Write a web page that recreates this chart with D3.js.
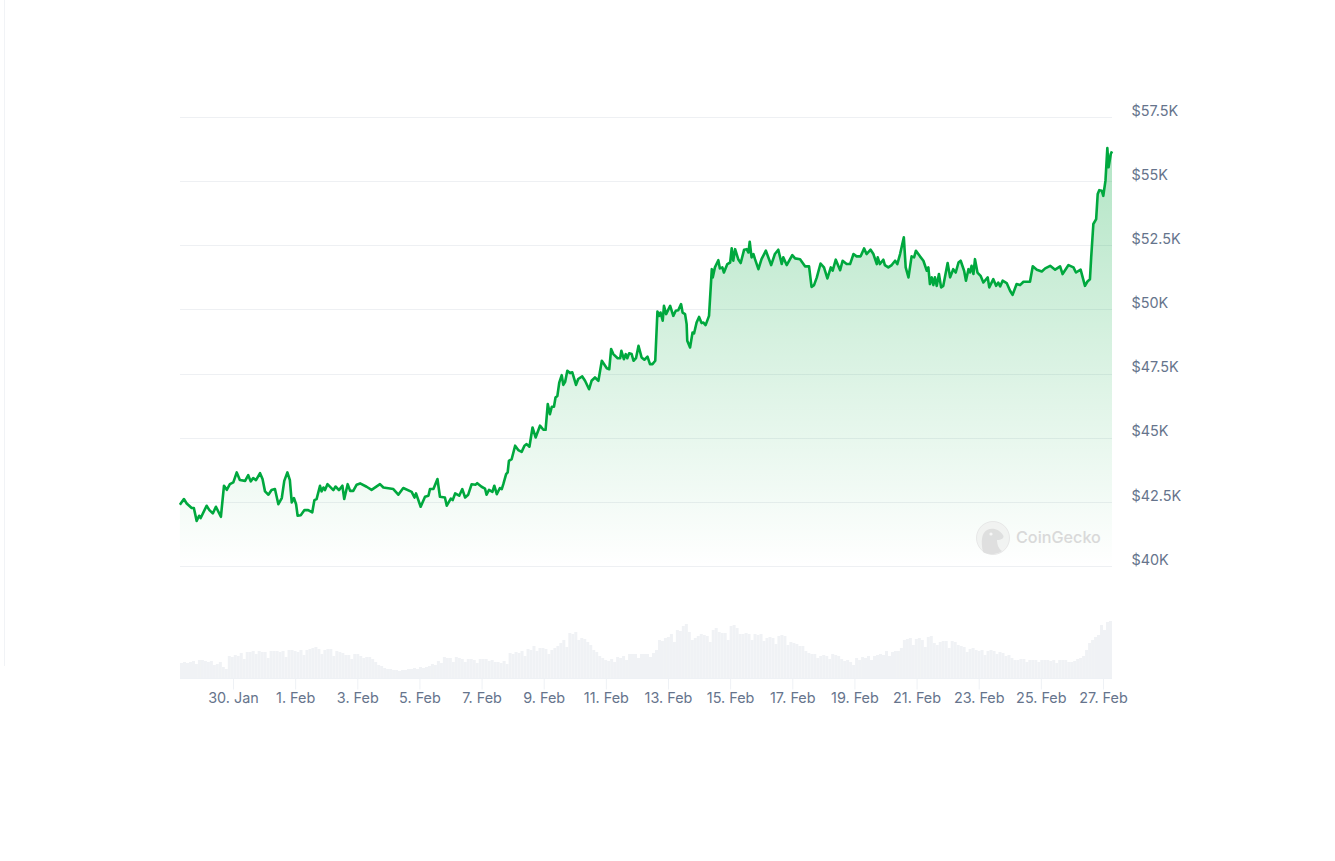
<!DOCTYPE html>
<html><head><meta charset="utf-8"><style>
html,body{margin:0;padding:0;background:#fff}
svg{display:block}
text{font-family:Inter,"Noto Sans",sans-serif}
</style><script src="https://cdn.jsdelivr.net/npm/d3@7"></script></head><body><svg id="c" width="1335" height="861"></svg>
<script>
// days since 28 Jan
const priceDays=[.29,.42,.51,.67,.74,.83,.91,.96,1.15,1.24,1.35,1.45,1.61,1.71,1.80,1.90,2.01,2.12,2.22,2.39,2.49,2.57,2.65,2.74,2.87,2.95,3.03,3.14,3.24,3.35,3.46,3.57,3.65,3.75,3.83,3.89,3.96,4.03,4.08,4.18,4.30,4.42,4.55,4.62,4.69,4.80,4.85,4.91,4.96,5.04,5.23,5.30,5.41,5.52,5.58,5.69,5.77,5.87,5.98,6.09,6.30,6.46,6.73,6.84,7.16,7.32,7.48,7.75,7.84,7.89,8.04,8.18,8.29,8.34,8.45,8.58,8.66,8.82,8.88,9.01,9.07,9.15,9.28,9.38,9.47,9.57,9.68,9.81,9.86,10.00,10.11,10.16,10.24,10.35,10.41,10.49,
10.59,10.65,10.70,10.79,10.84,10.88,10.97,11.08,11.18,11.29,11.38,11.45,11.54,11.64,11.74,11.88,11.99,12.06,12.13,12.20,12.26,12.33,12.38,12.44,12.50,12.58,12.63,12.69,12.76,12.85,12.92,13.04,13.11,13.24,13.33,13.46,13.54,13.65,13.76,13.87,14.03,14.11,14.17,14.24,14.38,14.46,14.50,14.58,14.64,14.69,14.75,14.83,14.89,14.97,15.05,15.15,15.24,15.34,15.42,15.50,15.59,15.66,15.72,15.76,15.83,15.87,15.94,16.07,16.17,16.25,16.33,16.42,16.47,16.55,16.60,16.62,16.71,16.79,16.84,16.92,17.00,17.08,17.14,17.21,17.32,
17.41,17.44,17.51,17.62,17.67,17.75,17.80,17.91,18.00,18.05,18.10,18.16,18.26,18.34,18.45,18.53,18.59,18.63,18.69,18.75,18.80,18.91,19.01,19.15,19.32,19.44,19.55,19.66,19.71,19.82,20.00,20.09,20.25,20.41,20.54,20.62,20.70,20.79,20.91,21.02,21.13,21.24,21.30,21.40,21.54,21.62,21.75,21.86,21.97,22.07,22.20,22.31,22.39,22.52,22.61,22.72,22.75,22.82,22.93,22.98,23.09,23.20,23.31,23.38,23.47,
23.59,23.65,23.74,23.84,23.92,23.98,24.11,24.22,24.33,24.38,24.43,24.49,24.54,24.59,24.65,24.72,24.79,24.86,25.00,25.08,25.18,25.26,25.35,25.42,25.53,25.59,25.67,25.72,25.77,25.83,25.88,25.96,26.06,26.15,26.29,26.34,26.47,26.56,26.63,26.69,26.77,26.90,27.01,27.09,27.22,27.33,27.44,27.65,27.74,27.87,28.03,28.14,28.30,28.46,28.62,28.70,28.89,29.05,29.13,29.28,29.42,
29.50,29.58,29.62,29.69,29.78,29.83,29.88,29.96,30.01,30.08,30.14,30.18,30.25,30.29];
// price, thousands of USD
const prices=[42.42,42.64,42.47,42.29,42.29,41.79,41.99,41.90,42.38,42.21,42.08,42.34,41.95,43.16,43.00,43.22,43.29,43.68,43.38,43.35,43.57,43.33,43.46,43.38,43.65,43.42,42.94,42.81,42.99,43.03,42.44,42.68,43.35,43.68,43.38,42.51,42.68,42.44,41.99,42.01,42.21,42.21,42.12,42.60,42.64,43.16,42.94,43.09,42.99,43.22,42.99,43.13,42.99,43.16,42.64,43.22,42.96,42.96,43.20,43.25,43.12,43.00,43.22,43.09,43.03,42.81,43.07,42.92,42.70,42.86,42.34,42.73,42.77,43.03,43.03,43.42,42.73,42.70,42.38,42.66,42.60,42.86,42.77,43.03,42.70,42.81,43.22,43.20,43.26,43.12,43.05,42.81,43.00,42.92,43.16,42.83,
43.07,43.03,43.22,43.61,43.68,44.13,44.20,44.72,44.55,44.48,44.72,44.78,44.68,45.43,45.04,45.50,45.34,45.34,46.34,45.95,46.24,46.24,46.60,46.66,47.18,47.47,47.09,47.21,47.64,47.55,47.58,47.09,47.32,47.42,47.25,46.92,47.25,47.38,47.25,48.03,47.74,47.70,48.49,48.29,48.13,48.13,48.42,48.09,48.29,48.13,48.32,48.29,48.03,48.13,48.61,48.16,48.07,48.19,47.90,47.90,48.03,49.95,49.78,49.91,49.59,50.17,49.85,50.17,49.78,49.98,50.00,50.24,49.91,49.85,49.46,48.81,48.55,49.13,49.10,49.52,49.74,49.50,49.52,49.42,49.78,
51.60,51.28,51.67,51.95,51.63,51.67,51.47,51.80,51.86,52.41,51.93,52.38,51.99,51.84,52.36,52.38,52.25,52.67,52.06,52.19,51.99,51.60,51.99,52.32,51.76,52.19,52.36,51.80,52.06,51.76,52.15,52.02,51.99,51.71,51.71,50.91,50.98,51.28,51.82,51.67,51.24,51.67,51.54,51.97,51.56,51.93,51.80,51.80,52.19,52.10,52.10,52.41,52.19,52.36,52.19,51.80,52.06,51.80,51.97,51.76,51.67,51.76,51.93,51.80,52.19,
52.84,51.67,51.28,52.10,52.06,52.32,52.10,51.93,51.54,51.67,51.02,51.28,50.98,51.28,50.95,51.41,50.89,50.95,51.84,51.28,51.60,51.47,51.86,51.93,51.54,51.15,51.60,51.47,51.73,51.41,51.99,51.47,51.34,51.08,51.28,50.89,51.21,50.95,51.08,50.93,51.15,51.06,50.76,50.60,51.02,50.98,51.11,51.11,51.71,51.58,51.51,51.63,51.73,51.58,51.71,51.41,51.76,51.67,51.47,51.58,50.95,
51.12,51.21,52.06,53.36,53.55,54.53,54.68,54.66,54.46,55.05,56.32,55.57,56.09,56.19];
// volume, estimated, one reading per sample across the window
const volumes=[15,16,15,16,17,14,18,18,17,16,17,13,14,16,11,9,
22,21,23,22,25,19,26,26,27,24,27,26,26,20,27,27,27,26,27,21,28,28,27,26,28,23,28,29,30,31,29,24,28,29,29,22,27,26,25,23,23,19,24,24,22,20,21,21,19,16,13,12,10,9,9,8,8,7,8,8,9,9,10,9,11,10,11,12,14,13,17,15,21,20,20,16,21,20,19,16,19,19,18,15,19,19,19,17,18,16,16,15,17,14,
25,24,26,25,27,22,29,28,32,27,30,30,29,24,28,30,32,35,38,31,45,44,46,38,40,39,36,33,28,26,22,20,18,17,19,16,21,20,22,18,24,24,24,20,24,24,24,21,25,28,
38,37,40,41,44,36,48,47,52,54,46,38,40,42,44,43,42,36,48,50,46,45,45,38,52,53,50,44,44,45,44,38,44,43,44,37,40,41,40,34,42,43,42,33,36,35,34,32,32,27,25,24,24,20,22,23,22,19,24,23,22,19,17,18,16,13,
20,18,21,20,22,18,22,23,24,23,27,22,26,27,27,30,38,39,40,33,39,40,38,31,41,42,35,33,36,37,37,30,37,36,33,32,31,26,29,30,28,27,28,23,27,28,27,24,26,25,22,23,20,18,18,19,19,16,18,18,18,16,18,18,18,17,18,15,18,18,18,16,16,17,19,20,22,28,35,38,41,43,53,48,56,57];
const priceTicks=[40,42.5,45,47.5,50,52.5,55,57.5];
const tickDays=[2,4,6,8,10,12,14,16,18,20,22,24,26,28,30];
const startDate=Date.UTC(2024,0,28);
const dayMs=864e5;
const toDate=d=>new Date(startDate+d*dayMs);

const svg=d3.select("#c");
const x=d3.scaleUtc().domain([toDate(.294),toDate(30.29)]).range([180,1112]);
const y=d3.scaleLinear().domain([40,57.5]).range([566,117]);
const vx=d3.scaleBand().domain(d3.range(volumes.length)).range([180,1112]);
const vy=d3.scaleLinear().domain([0,60]).range([678,618]);

const defs=svg.append("defs");
const g=defs.append("linearGradient").attr("id","ag").attr("x1",0).attr("x2",0).attr("y1",0).attr("y2",1);
g.append("stop").attr("offset",0).attr("stop-color","#00a83e").attr("stop-opacity",.3);
g.append("stop").attr("offset",1).attr("stop-color","#00a83e").attr("stop-opacity",0);

svg.append("rect").attr("x",4).attr("y",0).attr("width",1).attr("height",666).attr("fill","#f1f3f6");

const pts=priceDays.map((d,i)=>[toDate(d),prices[i]]);

svg.append("g").selectAll("line").data(priceTicks).join("line")
  .attr("x1",180).attr("x2",1112).attr("y1",d=>Math.round(y(d))+.5).attr("y2",d=>Math.round(y(d))+.5)
  .attr("stroke","#eef0f3").attr("stroke-width",1);

svg.append("path").attr("fill","url(#ag)")
  .attr("d",d3.area().x(d=>x(d[0])).y0(y(40)).y1(d=>y(d[1])+.8)(pts));

const gy=svg.append("g").attr("transform","translate(1112,0)")
  .call(d3.axisRight(y).tickValues(priceTicks).tickSize(0).tickPadding(19.5).tickFormat(d=>"$"+d+"K"));
gy.select(".domain").remove();
gy.selectAll("text").attr("fill","#66748c").attr("font-size",14.4).attr("font-family","Inter").attr("dy","-0.12em");

svg.append("g").selectAll("rect").data(volumes).join("rect")
  .attr("x",(d,i)=>vx(i)).attr("width",vx.bandwidth())
  .attr("y",d=>vy(d)).attr("height",d=>678-vy(d)).attr("fill","#f0f2f5");

svg.append("path").attr("fill","none").attr("stroke","#00a83e").attr("stroke-width",2.6).attr("stroke-linejoin","round")
  .attr("transform","translate(0,.8)")
  .attr("d",d3.line().x(d=>x(d[0])).y(d=>y(d[1]))(pts));

const gx=svg.append("g").attr("transform","translate(0,678.5)")
  .call(d3.axisBottom(x).tickValues(tickDays.map(toDate)).tickSize(11).tickPadding(3).tickFormat(d3.utcFormat("%-d. %b")));
gx.select(".domain").attr("stroke","#eef1f5").attr("d","M180,0H1112");
gx.selectAll("line").attr("stroke","#eef1f5");
gx.selectAll("text").attr("fill","#66748c").attr("font-size",14.4).attr("font-family","Inter");

// watermark
const wm=svg.append("g").attr("opacity",.9);
wm.append("circle").attr("cx",993).attr("cy",538).attr("r",16.5).attr("fill","#f1f2f1").attr("stroke","#e6e6e6").attr("stroke-width",1);
wm.append("path").attr("d","M983,552 C981,543 981,533 987,530 C993,527 1000,530 1003,535 C1005,538 1001,540 997,540 C997,545 999,549 1002,551 C996,555 988,555 983,552Z").attr("fill","#dcdcdc");
wm.append("circle").attr("cx",991).attr("cy",534).attr("r",1.6).attr("fill","#f7f7f7");
wm.append("text").attr("x",1016).attr("y",543).attr("font-size",16.2).attr("font-weight",500).attr("fill","#d6d6d6").attr("font-family","Inter").text("CoinGecko");
</script></body></html>
